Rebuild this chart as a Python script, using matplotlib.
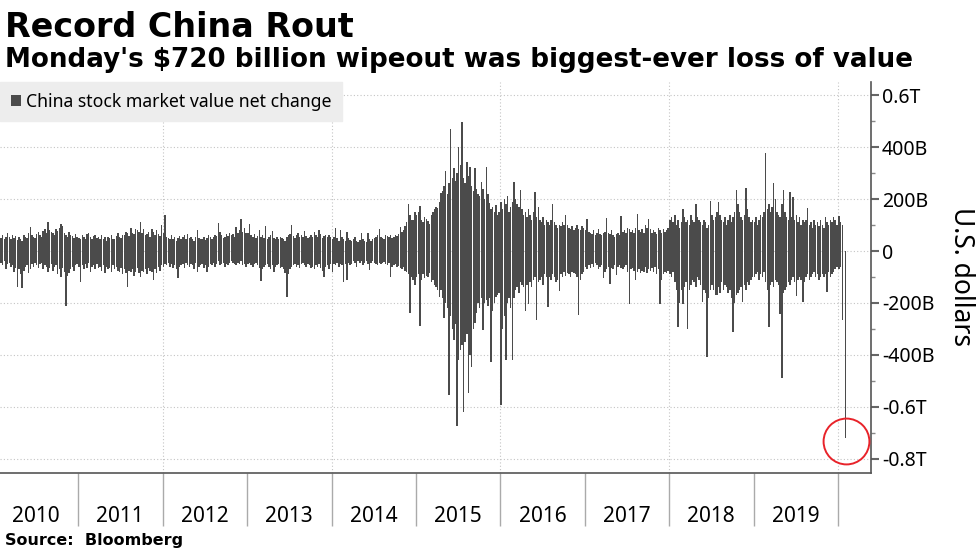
import numpy as np
import pandas as pd
import matplotlib
matplotlib.use('Agg')
import matplotlib.pyplot as plt
import matplotlib.dates as mdates
from matplotlib.ticker import MultipleLocator, FuncFormatter

# weekly high / low of the daily net change, billions of US$
years = list(range(2010, 2020))

hi_2010 = [45, 55, 60, 40, 50, 62, 48, 55, 70, 52, 45, 60, 50,
           58, 42, 55, 48, 40, 62, 55, 50, 68, 92, 60, 55, 50,
           65, 72, 60, 55, 78, 85, 70, 112, 80, 75, 70, 60, 85,
           78, 90, 104, 95, 70, 60, 55, 75, 62, 58, 50, 65, 55]
lo_2010 = [-40, -50, -35, -60, -45, -55, -40, -70, -50, -45, -60, -55, -80,
           -65, -138, -70, -90, -142, -75, -60, -55, -85, -70, -50, -60, -45,
           -55, -65, -50, -45, -70, -55, -60, -80, -65, -50, -75, -60, -55,
           -90, -70, -100, -65, -80, -212, -95, -85, -70, -60, -75, -55, -50]

hi_2011 = [50, 45, 60, 55, 48, 65, 70, 52, 45, 58, 62, 50, 55,
           48, 60, 45, 52, 40, 55, 50, 62, 48, 45, 58, 70, 55,
           50, 62, 60, 75, 68, 58, 90, 70, 65, 85, 80, 75, 112,
           70, 85, 60, 65, 72, 55, 85, 73, 60, 80, 65, 58, 100]
lo_2011 = [-60, -120, -55, -70, -50, -65, -45, -80, -60, -55, -70, -50, -65,
           -60, -75, -55, -85, -60, -70, -65, -80, -55, -70, -60, -75, -80,
           -65, -90, -70, -85, -138, -75, -80, -70, -95, -80, -65, -85, -100,
           -75, -80, -70, -90, -65, -75, -80, -112, -70, -85, -60, -75, -55]

hi_2012 = [70, 140, 55, 50, 45, 62, 48, 55, 40, 50, 58, 45, 52,
           60, 48, 65, 50, 55, 45, 40, 52, 81, 50, 45, 48, 55,
           42, 50, 60, 52, 48, 55, 62, 58, 108, 73, 60, 50, 55,
           65, 58, 70, 60, 65, 55, 92, 70, 80, 123, 75, 90, 70]
lo_2012 = [-60, -50, -55, -45, -60, -50, -65, -55, -70, -104, -60, -55, -50,
           -65, -45, -55, -60, -50, -55, -70, -45, -81, -60, -55, -50, -65,
           -55, -81, -60, -50, -55, -45, -60, -50, -40, -55, -50, -45, -60,
           -50, -55, -45, -40, -46, -50, -55, -45, -50, -40, -55, -50, -60]

hi_2013 = [70, 104, 60, 55, 65, 50, 58, 81, 55, 60, 50, 97, 48,
           55, 60, 77, 50, 45, 52, 48, 55, 50, 45, 40, 55, 60,
           65, 100, 58, 50, 62, 70, 55, 60, 52, 77, 58, 50, 55,
           62, 55, 73, 60, 55, 81, 65, 50, 58, 62, 55, 60, 52]
lo_2013 = [-50, -45, -55, -60, -50, -45, -55, -65, -115, -70, -60, -55, -50,
           -60, -70, -55, -80, -60, -55, -50, -65, -60, -70, -85, -177, -90,
           -70, -60, -55, -50, -60, -55, -65, -50, -45, -55, -60, -50, -55,
           -65, -60, -70, -55, -60, -50, -65, -75, -100, -60, -55, -70, -50]

hi_2014 = [45, 55, 88, 50, 40, 81, 55, 48, 40, 73, 50, 42, 38,
           45, 52, 40, 35, 42, 69, 45, 40, 35, 69, 48, 40, 45,
           50, 55, 60, 85, 55, 50, 45, 62, 58, 55, 60, 50, 55,
           60, 58, 65, 92, 75, 80, 95, 110, 181, 140, 120, 119, 150]
lo_2014 = [-81, -50, -55, -45, -60, -50, -55, -120, -50, -112, -45, -55, -50,
           -40, -45, -62, -38, -45, -40, -55, -45, -40, -50, -73, -48, -40,
           -45, -50, -55, -45, -50, -45, -42, -50, -55, -48, -100, -60, -55,
           -50, -60, -58, -65, -70, -60, -75, -80, -90, -240, -100, -110, -130]

hi_2015 = [140, 150, 173, 120, 110, 130, 125, 115, 105, 140, 150, 160, 170,
           165, 190, 223, 230, 250, 308, 220, 260, 470, 280, 320, 270, 300,
           400, 330, 496, 280, 260, 342, 290, 323, 250, 230, 320, 240, 220,
           210, 265, 240, 200, 323, 220, 185, 160, 170, 150, 177, 140, 150]
lo_2015 = [-100, -90, -288, -110, -90, -105, -95, -100, -85, -120, -110, -130, -140,
           -150, -177, -150, -180, -258, -200, -220, -554, -250, -300, -342, -280, -673,
           -420, -381, -360, -619, -350, -320, -546, -400, -446, -300, -277, -240, -200,
           -220, -180, -304, -200, -190, -210, -180, -427, -230, -200, -177, -170, -160]

hi_2016 = [190, 160, 200, 180, 210, 150, 170, 190, 265, 200, 180, 170, 235,
           160, 140, 150, 130, 160, 140, 120, 150, 227, 130, 170, 120, 110,
           130, 100, 120, 110, 100, 120, 181, 110, 100, 90, 100, 95, 110,
           100, 138, 100, 90, 85, 95, 80, 90, 100, 85, 80, 95, 90]
lo_2016 = [-592, -300, -250, -419, -200, -180, -220, -419, -180, -150, -140, -160, -120,
           -130, -140, -231, -130, -204, -120, -140, -110, -100, -265, -120, -110, -100,
           -130, -90, -100, -215, -100, -110, -90, -100, -120, -110, -154, -90, -100,
           -80, -95, -85, -90, -100, -80, -85, -90, -100, -246, -110, -90, -80]

hi_2017 = [80, 123, 75, 70, 65, 80, 60, 70, 85, 65, 60, 70, 75,
           127, 70, 65, 80, 60, 55, 65, 70, 60, 135, 75, 80, 70,
           90, 85, 75, 80, 70, 90, 142, 80, 75, 85, 70, 100, 90,
           123, 85, 70, 80, 75, 65, 90, 80, 70, 85, 75, 80, 90]
lo_2017 = [-60, -70, -55, -65, -50, -60, -45, -55, -70, -60, -55, -104, -80,
           -70, -60, -127, -65, -70, -55, -92, -60, -55, -65, -70, -60, -55,
           -80, -204, -70, -65, -75, -112, -80, -70, -85, -75, -80, -60, -85,
           -70, -75, -65, -80, -62, -90, -70, -204, -110, -90, -80, -85, -75]

hi_2018 = [120, 130, 110, 140, 100, 120, 90, 110, 161, 130, 110, 120, 100,
           140, 120, 110, 181, 130, 120, 110, 100, 120, 110, 90, 100, 192,
           140, 120, 130, 150, 188, 140, 120, 110, 130, 100, 120, 140, 110,
           130, 150, 235, 180, 150, 130, 120, 140, 242, 160, 130, 110, 120]
lo_2018 = [-90, -100, -80, -120, -150, -292, -200, -150, -204, -140, -120, -300, -150,
           -130, -110, -120, -140, -100, -110, -130, -196, -150, -160, -408, -180, -150,
           -130, -150, -170, -170, -140, -160, -120, -150, -130, -140, -160, -150, -180,
           -312, -200, -170, -160, -150, -140, -196, -130, -150, -120, -130, -110, -100]

hi_2019 = [110, 130, 100, 120, 140, 130, 150, 377, 160, 180, 150, 170, 262,
           200, 150, 140, 130, 180, 235, 150, 130, 120, 227, 130, 208, 120,
           140, 110, 130, 100, 120, 110, 120, 165, 100, 110, 90, 120, 100,
           110, 95, 120, 100, 90, 130, 110, 100, 120, 110, 130, 120, 100]
lo_2019 = [-100, -90, -80, -110, -90, -100, -80, -120, -150, -292, -130, -120, -140,
           -110, -120, -130, -242, -488, -160, -150, -140, -120, -130, -110, -100, -120,
           -173, -110, -100, -110, -196, -120, -100, -90, -110, -100, -90, -80, -100,
           -90, -110, -100, -90, -100, -90, -158, -80, -100, -90, -80, -70, -60]

dates_2020 = ['2020-01-06', '2020-01-13', '2020-01-20', '2020-02-03']
hi_2020 = [135, 110, 100, 0]
lo_2020 = [-70, -60, -265, -720]

hi_years = [hi_2010, hi_2011, hi_2012, hi_2013, hi_2014,
            hi_2015, hi_2016, hi_2017, hi_2018, hi_2019]
lo_years = [lo_2010, lo_2011, lo_2012, lo_2013, lo_2014,
            lo_2015, lo_2016, lo_2017, lo_2018, lo_2019]

dates, hi, lo = [], [], []
for y, h, l in zip(years, hi_years, lo_years):
    d = pd.date_range(f'{y}-01-04', periods=len(h), freq='7D')
    dates.extend(d)
    hi.extend(h)
    lo.extend(l)
dates.extend(pd.to_datetime(dates_2020))
hi.extend(hi_2020)
lo.extend(lo_2020)
hi = np.array(hi, dtype=float)
lo = np.array(lo, dtype=float)

plt.rcParams['font.family'] = ['Noto Sans', 'DejaVu Sans']

fig = plt.figure(figsize=(9.77, 5.49), dpi=100)
ax = fig.add_axes([0, 0.1384, 0.8915, 0.7122])

ax.bar(dates, hi - lo, bottom=lo, width=6.2, color='#4b4b4b', linewidth=0,
       label='China stock market value net change', zorder=3)

# circle around Monday's drop
ax.plot(pd.Timestamp('2020-02-03'), -730, 'o', ms=33, mfc='none',
        mec='#e8232a', mew=1.4, zorder=4, clip_on=False)

ax.set_xlim(pd.Timestamp('2010-01-27'), pd.Timestamp('2020-05-23'))
ax.set_ylim(-854, 650)

# grid
ax.yaxis.grid(True, which='major', linestyle=(0, (1, 2)), color='#c4c4c4', lw=0.8, zorder=0)
for y in [2012, 2014, 2016, 2018, 2020]:
    ax.axvline(pd.Timestamp(f'{y}-01-01'), linestyle=(0, (1, 2)), color='#c4c4c4', lw=0.8, zorder=0)

for s in ['top', 'left']:
    ax.spines[s].set_visible(False)
for s in ['right', 'bottom']:
    ax.spines[s].set_color('#555555')
    ax.spines[s].set_linewidth(1.2)

# y axis on the right
ax.yaxis.tick_right()
ax.yaxis.set_major_locator(MultipleLocator(200))
ax.yaxis.set_minor_locator(MultipleLocator(100))

def fmt(v, pos):
    if abs(v) < 1:
        return '0'
    if abs(v) >= 600:
        return f'{v / 1000:.1f}T'
    return f'{int(v)}B'

ax.yaxis.set_major_formatter(FuncFormatter(fmt))
ax.tick_params(axis='y', which='major', length=6, width=1.5, color='#666666',
               labelsize=14, pad=2)
ax.tick_params(axis='y', which='minor', length=3, width=1, color='#888888')

# x axis: year separators as minor ticks, labels mid-year
ax.xaxis.set_minor_locator(mdates.YearLocator())
ax.xaxis.set_major_locator(mdates.YearLocator(month=7, day=1))
ax.xaxis.set_major_formatter(mdates.DateFormatter('%Y'))
ax.tick_params(axis='x', which='major', length=0, labelsize=15, pad=24)
ax.tick_params(axis='x', which='minor', length=38, width=1, color='#aaaaaa')

ax.legend(loc='upper left', bbox_to_anchor=(0, 1), borderaxespad=0,
          frameon=True, fancybox=False, facecolor='#ededed', edgecolor='#ededed',
          framealpha=1, fontsize=12.7, handlelength=0.6, handleheight=0.6,
          handletextpad=0.25, borderpad=0.6)

fig.text(5 / 977, 1 - 37 / 549, 'Record China Rout', fontsize=24, fontweight='bold',
         family='DejaVu Sans', va='baseline', ha='left')
fig.text(5 / 977, 1 - 67 / 549, "Monday's $720 billion wipeout was biggest-ever loss of value",
         fontsize=18.8, fontweight='bold', family='DejaVu Sans', va='baseline', ha='left')
fig.text(5 / 977, 1 - 545 / 549, 'Source:  Bloomberg', fontsize=11.5, fontweight='bold',
         family='DejaVu Sans', va='baseline', ha='left')
fig.text(961 / 977, 1 - 277 / 549, 'U.S. dollars', fontsize=19, rotation=270,
         va='center', ha='center')

fig.savefig('out.png', dpi=100)
